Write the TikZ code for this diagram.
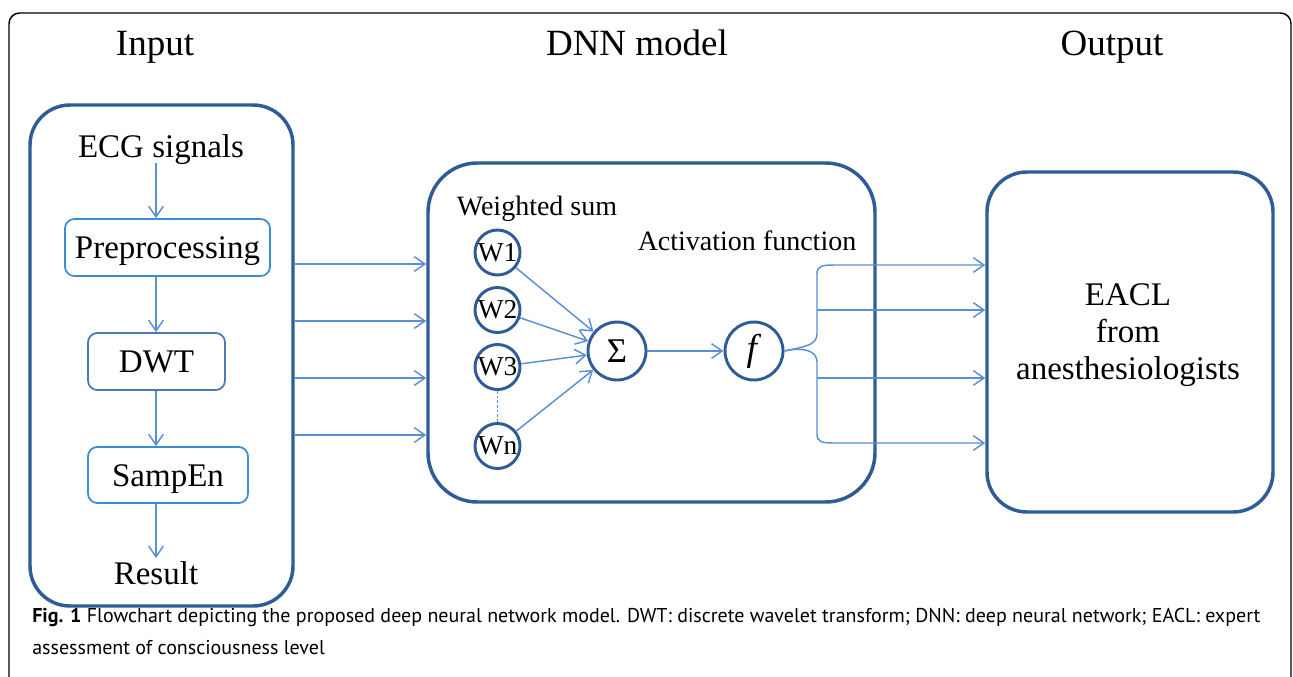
\documentclass[tikz,border=0pt]{standalone}
\usepackage{fontspec}
\setmainfont{Liberation Serif}
\newfontfamily\capfont{PT Sans}
\usetikzlibrary{arrows.meta,calc}
\definecolor{darkb}{HTML}{2E5C96}
\definecolor{connb}{HTML}{5B8FD4}
\definecolor{lightbox}{HTML}{3C8DD8}
\definecolor{midbox}{HTML}{4A78B8}
\tikzset{
  bigbox/.style={draw=darkb, line width=2.6pt, rounded corners=#1, inner sep=0pt},
  smallbox/.style={draw=#1, line width=1.3pt, rounded corners=7pt, inner sep=0pt,
    font=\fontsize{24.75}{28}\selectfont, text height=20pt, text depth=3.5pt},
  neuron/.style={circle, draw=darkb, line width=2.2pt, inner sep=0pt, minimum size=#1},
  conn/.style={draw=connb, line width=1.1pt},
  arr/.style={conn, -{Straight Barb[length=8pt,width=11pt]}},
  title/.style={anchor=base, font=\fontsize{27.75}{32}\selectfont},
  maintext/.style={anchor=base, font=\fontsize{24.75}{28}\selectfont},
  midtext/.style={anchor=base, font=\fontsize{21}{24}\selectfont},
  wtext/.style={font=\fontsize{20.5}{22}\selectfont},
  captext/.style={anchor=base west, inner sep=0pt, font=\capfont\fontsize{15}{24}\selectfont},
}
\begin{document}
\begin{tikzpicture}[x=0.75pt,y=-0.75pt]
\useasboundingbox (0,0) rectangle (1293,676);
% outer frame
\draw[black, line width=1.1pt, rounded corners=8pt] (9,700) -- (9,13) -- (1291,13) -- (1291,700);

% titles
\node[title] (tin) at (155,55) {Input};
\node[title] (tdnn) at (637,55) {DNN model};
\node[title] (tout) at (1112,55) {Output};

% input box
\node[bigbox=30pt, minimum width={263*0.75pt}, minimum height={501*0.75pt}] (inbox) at (161.5,355.5) {};
\coordinate (colx) at (156,0);
\node[maintext] (ecg) at (161,157) {ECG signals};
\node[smallbox=lightbox, minimum width={205*0.75pt}, minimum height={57*0.75pt}] (pre) at (167.5,247.5) {Preprocessing};
\node[smallbox=midbox, minimum width={137*0.75pt}, minimum height={57*0.75pt}] (dwt) at (156.5,361.5) {DWT};
\node[smallbox=lightbox, minimum width={160*0.75pt}, minimum height={56*0.75pt}] (samp) at (168,475) {SampEn};
\node[maintext] (res) at (156,584) {Result};

\draw[arr] ($(ecg.base -| colx)+(0,6)$) -- (pre.north -| colx);
\draw[arr] (pre.south -| colx) -- (dwt.north -| colx);
\draw[arr] (dwt.south -| colx) -- (samp.north -| colx);
\draw[arr] (samp.south -| colx) -- ($(res.base -| colx)+(0,-26)$);

% DNN box
\node[bigbox=37pt, minimum width={447*0.75pt}, minimum height={339*0.75pt}] (dnn) at (651.5,332.5) {};
\node[midtext] (wsum) at (537,215) {Weighted sum};
\node[midtext] (act) at (747,250) {Activation function};

\node[neuron={45*0.75pt}, wtext] (w1) at (497.5,252.5) {W1};
\node[neuron={45*0.75pt}, wtext] (w2) at (497.5,310) {W2};
\node[neuron={45*0.75pt}, wtext] (w3) at (497.5,367) {W3};
\node[neuron={45*0.75pt}, wtext] (wn) at (497.5,446) {Wn};
\node[neuron={58*0.75pt}, font=\fontsize{26}{28}\selectfont] (sig) at (617,351) {Σ};
\node[neuron={58*0.75pt}, font=\fontsize{28}{30}\selectfont] (f) at (754,351) {\textit{f}};

\draw[conn, line width=0.8pt, dash pattern=on 2pt off 1.5pt] (w3) -- (wn);
\draw[arr] (w1) -- (sig);
\draw[arr] (w2) -- (sig);
\draw[arr] (w3) -- (sig);
\draw[arr] (wn) -- (sig);
\draw[arr] (sig) -- (f);

% output box
\node[bigbox=30pt, minimum width={286*0.75pt}, minimum height={340*0.75pt}] (out) at (1130,342) {};
\node[align=center, font=\fontsize{24.75}{27.75}\selectfont] (eacl) at (1128,335) {EACL\\from\\anesthesiologists};

% input -> DNN connectors
\foreach \yy in {264,321,378,435}{
  \coordinate (ly) at (0,\yy);
  \draw[arr] (inbox.east |- ly) -- (dnn.west |- ly);
}

% brace from f
\coordinate (bt) at (817,265);
\coordinate (bb) at (817,443);
\coordinate (bm1) at (817,310);
\coordinate (bm2) at (817,378);
\draw[arr] (f.east) .. controls (802,347) and (817,346) .. (817,334) -- (817,274)
   .. controls (817,266) and (822,265) .. (834,265) -- (out.west |- bt);
\draw[arr] (f.east) .. controls (802,347) and (817,350) .. (817,362) -- (817,434)
   .. controls (817,442) and (822,443) .. (834,443) -- (out.west |- bb);
\draw[arr] (bm1) -- (out.west |- bm1);
\draw[arr] (bm2) -- (out.west |- bm2);

% caption
\node[captext] (cap1) at (32,622)
  {\textbf{Fig. 1} Flowchart depicting the proposed deep neural network model. DWT: discrete wavelet transform; DNN: deep neural network; EACL: expert};
\node[captext] (cap2) at (32,654)
  {assessment of consciousness level};
\end{tikzpicture}
\end{document}
